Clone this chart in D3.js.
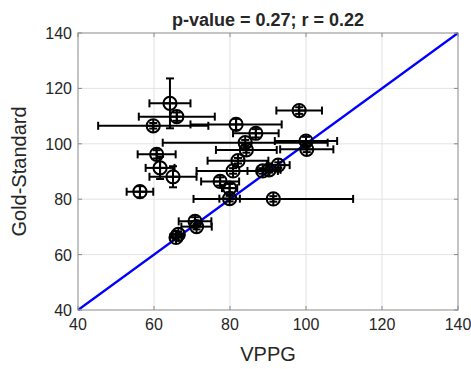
<!DOCTYPE html>
<html><head><meta charset="utf-8">
<script src="https://cdn.jsdelivr.net/npm/d3@7"></script>
<style>body{margin:0;background:#fff}svg{display:block}text{font-family:"Liberation Sans",Arial,sans-serif;fill:#262626}</style>
</head><body><svg id="c" width="471" height="369"></svg>
<script>
const vppg    = [64.2, 66.0, 59.8, 81.6, 86.8, 98.2, 84.0, 100.0, 84.3, 100.2, 60.7, 61.6, 65.0, 56.3, 82.1, 80.8, 77.4, 79.9, 79.9, 91.4, 70.8, 71.2, 66.4, 65.8, 88.6, 90.3, 92.7];
const gold    = [114.6, 109.8, 106.5, 107.0, 103.8, 112.0, 100.4, 101.0, 97.8, 98.0, 96.2, 91.3, 88.1, 82.7, 93.9, 90.2, 86.4, 84.0, 80.2, 80.1, 72.0, 70.1, 67.3, 66.2, 90.2, 90.6, 92.3];
const vppgErr = [5.4, 10, 14.5, 12, 6, 6, 21.7, 8.2, 8, 7, 5, 3.8, 6.2, 3.5, 8, 9.6, 5, 2, 2.7, 21, 4.3, 4, 1.5, 1.5, 4, 3, 3];
const goldErr = [9, 1.5, 1, 2, 1.5, 1.2, 1, 1.5, 1, 1, 1.5, 4, 3.8, 2, 1, 1, 1.5, 1.5, 1, 1, 1.5, 1, 1, 1, 1, 1, 1];
const xTicks = [40, 60, 80, 100, 120, 140];
const yTicks = [40, 60, 80, 100, 120, 140];
const titleText = "p-value = 0.27; r = 0.22";
const xLabel = "VPPG", yLabel = "Gold-Standard";

const svg = d3.select("#c");
const L = 78, R = 458, T = 33, B = 310;
const x = d3.scaleLinear().domain([40, 140]).range([L, R]);
const y = d3.scaleLinear().domain([40, 140]).range([B, T]);

// grid
const g = svg.append("g");
g.selectAll(".gx").data(xTicks.slice(1, -1)).enter().append("line")
  .attr("x1", d => x(d)).attr("x2", d => x(d)).attr("y1", T).attr("y2", B)
  .attr("stroke", "#e3e3e3").attr("stroke-width", 1);
g.selectAll(".gy").data(yTicks.slice(1, -1)).enter().append("line")
  .attr("y1", d => y(d)).attr("y2", d => y(d)).attr("x1", L).attr("x2", R)
  .attr("stroke", "#e3e3e3").attr("stroke-width", 1);

// identity line
svg.append("line").attr("x1", x(40)).attr("y1", y(40)).attr("x2", x(140)).attr("y2", y(140))
  .attr("stroke", "#0000ff").attr("stroke-width", 2.2);

// error bars and markers
const pts = vppg.map((v, i) => ({x: v, y: gold[i], ex: vppgErr[i], ey: goldErr[i]}));
const eg = svg.append("g").attr("stroke", "#000").attr("stroke-width", 2).attr("fill", "none");
const cap = 4;
pts.forEach(p => {
  const cx = x(p.x), cy = y(p.y);
  const x0 = x(p.x - p.ex), x1 = x(p.x + p.ex);
  const y0 = y(p.y - p.ey), y1 = y(p.y + p.ey);
  eg.append("line").attr("x1", x0).attr("x2", x1).attr("y1", cy).attr("y2", cy);
  eg.append("line").attr("x1", x0).attr("x2", x0).attr("y1", cy - cap).attr("y2", cy + cap);
  eg.append("line").attr("x1", x1).attr("x2", x1).attr("y1", cy - cap).attr("y2", cy + cap);
  eg.append("line").attr("x1", cx).attr("x2", cx).attr("y1", y0).attr("y2", y1);
  eg.append("line").attr("y1", y0).attr("y2", y0).attr("x1", cx - cap).attr("x2", cx + cap);
  eg.append("line").attr("y1", y1).attr("y2", y1).attr("x1", cx - cap).attr("x2", cx + cap);
});
const r = 6.6;
pts.forEach(p => {
  const cx = x(p.x), cy = y(p.y);
  eg.append("circle").attr("cx", cx).attr("cy", cy).attr("r", r);
  eg.append("line").attr("x1", cx - r).attr("x2", cx + r).attr("y1", cy).attr("y2", cy);
  eg.append("line").attr("x1", cx).attr("x2", cx).attr("y1", cy - r).attr("y2", cy + r);
});

// axes box
svg.append("rect").attr("x", L).attr("y", T).attr("width", R - L).attr("height", B - T)
  .attr("fill", "none").attr("stroke", "#8a8a8a").attr("stroke-width", 1);
const tk = svg.append("g").attr("stroke", "#8a8a8a").attr("stroke-width", 1);
xTicks.forEach(t => {
  tk.append("line").attr("x1", x(t)).attr("x2", x(t)).attr("y1", B).attr("y2", B - 4);
  tk.append("line").attr("x1", x(t)).attr("x2", x(t)).attr("y1", T).attr("y2", T + 4);
});
yTicks.forEach(t => {
  tk.append("line").attr("y1", y(t)).attr("y2", y(t)).attr("x1", L).attr("x2", L + 4);
  tk.append("line").attr("y1", y(t)).attr("y2", y(t)).attr("x1", R).attr("x2", R - 4);
});

// tick labels
svg.selectAll(".xl").data(xTicks).enter().append("text")
  .attr("x", d => x(d)).attr("y", B + 20).attr("text-anchor", "middle")
  .attr("font-size", 16).text(d => d);
svg.selectAll(".yl").data(yTicks).enter().append("text")
  .attr("x", L - 6).attr("y", d => y(d) + 6).attr("text-anchor", "end")
  .attr("font-size", 16).text(d => d);

// labels
svg.append("text").attr("x", (L + R) / 2).attr("y", 361).attr("text-anchor", "middle")
  .attr("font-size", 20).text(xLabel);
svg.append("text").attr("transform", `translate(26,${(T + B) / 2}) rotate(-90)`)
  .attr("text-anchor", "middle").attr("font-size", 20).text(yLabel);
svg.append("text").attr("x", (L + R) / 2).attr("y", 26).attr("text-anchor", "middle")
  .attr("font-size", 18).attr("font-weight", "bold").attr("fill", "#000").text(titleText);
</script></body></html>
